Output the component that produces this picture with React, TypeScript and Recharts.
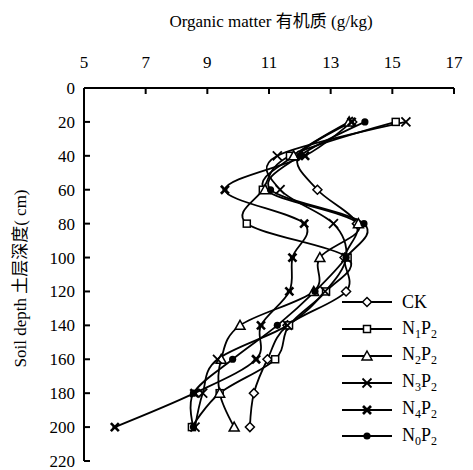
import React from "react";
import { LineChart, Line, XAxis, YAxis, Legend } from "recharts";

// soil depth (cm) and organic matter (g/kg) per treatment
const depths = [20, 40, 60, 80, 100, 120, 140, 160, 180, 200];
const ck = [13.7, 11.95, 12.57, 13.85, 13.45, 13.5, 11.6, 10.95, 10.51, 10.38];
const n1p2 = [15.11, 11.68, 10.8, 10.28, 13.55, 12.85, 11.65, 11.2, 9.4, 8.5];
const n2p2 = [13.6, 11.8, 10.87, 13.9, 12.65, 12.45, 10.06, 9.45, 9.4, 9.87];
const n3p2 = [15.44, 11.27, 11.36, 13.09, 13.5, 12.82, 11.6, 9.33, 8.85, 8.6];
const n4p2 = [13.68, 12.17, 9.57, 12.14, 11.76, 11.66, 10.74, 10.58, 8.58, 6.0];
const n0p2 = [14.11, 12.0, 11.05, 14.08, 13.5, 12.49, 11.27, 9.82, 8.55, 8.55];

const valueTicks = [5, 7, 9, 11, 13, 15, 17];
const depthTicks = [0, 20, 40, 60, 80, 100, 120, 140, 160, 180, 200, 220];

const serif = "Liberation Serif, Noto Sans CJK SC, serif";

type Shape = "diamond" | "square" | "triangle" | "cross" | "star" | "dot";

const series: { key: string; name: [string, string][]; shape: Shape }[] = [
  { key: "ck", name: [["CK", ""]], shape: "diamond" },
  { key: "n1p2", name: [["N", "1"], ["P", "2"]], shape: "square" },
  { key: "n2p2", name: [["N", "2"], ["P", "2"]], shape: "triangle" },
  { key: "n3p2", name: [["N", "3"], ["P", "2"]], shape: "cross" },
  { key: "n4p2", name: [["N", "4"], ["P", "2"]], shape: "star" },
  { key: "n0p2", name: [["N", "0"], ["P", "2"]], shape: "dot" },
];

const data = depths.map((depth, i) => ({
  depth,
  ck: ck[i],
  n1p2: n1p2[i],
  n2p2: n2p2[i],
  n3p2: n3p2[i],
  n4p2: n4p2[i],
  n0p2: n0p2[i],
}));

// Catmull-Rom style smoothing (same protocol as d3 curves)
const smoothCurve = (context: any) => {
  const k = 1 / 6;
  let x0 = NaN, x1 = NaN, x2 = NaN, y0 = NaN, y1 = NaN, y2 = NaN;
  let pt = 0;
  let ln = NaN;
  const seg = (x: number, y: number) => {
    context.bezierCurveTo(
      x1 + k * (x2 - x0),
      y1 + k * (y2 - y0),
      x2 + k * (x1 - x),
      y2 + k * (y1 - y),
      x2,
      y2
    );
  };
  return {
    areaStart() { ln = 0; },
    areaEnd() { ln = NaN; },
    lineStart() {
      x0 = x1 = x2 = y0 = y1 = y2 = NaN;
      pt = 0;
    },
    lineEnd() {
      if (pt === 2) context.lineTo(x2, y2);
      else if (pt === 3) seg(x1, y1);
      if (ln || (ln !== 0 && pt === 1)) context.closePath();
      ln = 1 - ln;
    },
    point(x: number, y: number) {
      x = +x; y = +y;
      if (pt === 0) {
        pt = 1;
        ln ? context.lineTo(x, y) : context.moveTo(x, y);
      } else if (pt === 1) {
        pt = 2;
        x1 = x; y1 = y;
      } else {
        pt = 3;
        seg(x, y);
      }
      x0 = x1; x1 = x2; x2 = x;
      y0 = y1; y1 = y2; y2 = y;
    },
  };
};

const Marker = ({ cx, cy, shape }: { cx: number; cy: number; shape: Shape }) => {
  if (cx == null || cy == null) return null;
  const sw = 1.5;
  switch (shape) {
    case "diamond":
      return (
        <polygon
          points={`${cx},${cy - 4.5} ${cx + 4.5},${cy} ${cx},${cy + 4.5} ${cx - 4.5},${cy}`}
          fill="#fff" stroke="#000" strokeWidth={sw}
        />
      );
    case "square":
      return <rect x={cx - 3.5} y={cy - 3.5} width={7} height={7} fill="#fff" stroke="#000" strokeWidth={sw} />;
    case "triangle":
      return (
        <polygon
          points={`${cx},${cy - 5} ${cx + 5},${cy + 4} ${cx - 5},${cy + 4}`}
          fill="#fff" stroke="#000" strokeWidth={sw}
        />
      );
    case "cross":
      return (
        <g stroke="#000" strokeWidth={1.8}>
          <line x1={cx - 4.5} y1={cy - 4.5} x2={cx + 4.5} y2={cy + 4.5} />
          <line x1={cx - 4.5} y1={cy + 4.5} x2={cx + 4.5} y2={cy - 4.5} />
        </g>
      );
    case "star":
      return (
        <g stroke="#000" strokeWidth={2.6}>
          <line x1={cx - 4} y1={cy - 4} x2={cx + 4} y2={cy + 4} />
          <line x1={cx - 4} y1={cy + 4} x2={cx + 4} y2={cy - 4} />
          <line x1={cx - 2.5} y1={cy} x2={cx + 2.5} y2={cy} strokeWidth={1.4} />
        </g>
      );
    default:
      return <circle cx={cx} cy={cy} r={3.6} fill="#000" />;
  }
};

const renderLegend = () => (
  <div style={{ fontFamily: serif, fontSize: 18, color: "#000" }}>
    {series.map((s) => (
      <div key={s.key} style={{ display: "flex", alignItems: "center", height: 26.8 }}>
        <svg width={52} height={16}>
          <line x1={0} y1={8} x2={50} y2={8} stroke="#000" strokeWidth={1.8} />
          <Marker cx={25} cy={8} shape={s.shape} />
        </svg>
        <span style={{ marginLeft: 8, lineHeight: 1 }}>
          {s.name.map(([base, sub], i) => (
            <span key={i}>
              {base}
              {sub && <sub style={{ fontSize: 12, verticalAlign: "-4px" }}>{sub}</sub>}
            </span>
          ))}
        </span>
      </div>
    ))}
  </div>
);

// x-axis title above the top axis
const ValueLabel = (props: any) => {
  const vb = props.viewBox || { x: 0, y: 0, width: 0, height: 0 };
  return (
    <text x={vb.x + vb.width / 2 + 2} y={vb.y - 3} textAnchor="middle" fill="#000" fontSize={17} fontFamily={serif}>
      Organic matter 有机质 (g/kg)
    </text>
  );
};

const DepthLabel = (props: any) => {
  const vb = props.viewBox || { x: 0, y: 0, width: 0, height: 0 };
  const cx = 20;
  const cy = vb.y + vb.height / 2 + 4;
  return (
    <text
      x={cx}
      y={cy}
      transform={`rotate(-90, ${cx}, ${cy})`}
      textAnchor="middle"
      dominantBaseline="central"
      fill="#000"
      fontSize={17}
      fontFamily={serif}
    >
      Soil depth 土层深度( cm)
    </text>
  );
};

export default function App() {
  return (
    <div style={{ position: "absolute", left: 0, top: 0, background: "#fff", fontFamily: serif }}>
      <LineChart
        width={473}
        height={470}
        data={data}
        layout="vertical"
        margin={{ top: 30, right: 19, bottom: 9, left: 0 }}
      >
        <XAxis
          type="number"
          orientation="top"
          domain={[5, 17]}
          ticks={valueTicks}
          interval={0}
          allowDataOverflow
          height={58}
          axisLine={{ stroke: "#000", strokeWidth: 2 }}
          tickLine={{ stroke: "#000", strokeWidth: 2 }}
          tickSize={-6}
          tickMargin={26}
          tick={{ fill: "#000", fontSize: 17, fontFamily: serif }}
          label={ValueLabel}
        />
        <YAxis
          type="number"
          dataKey="depth"
          domain={[0, 220]}
          ticks={depthTicks}
          interval={0}
          width={84}
          axisLine={{ stroke: "#000", strokeWidth: 2 }}
          tickLine={{ stroke: "#000", strokeWidth: 2 }}
          tickSize={-6}
          tickMargin={15}
          tick={{ fill: "#000", fontSize: 17, fontFamily: serif }}
          label={DepthLabel}
        />
        <Legend
          content={renderLegend}
          layout="vertical"
          align="center"
          verticalAlign="middle"
          wrapperStyle={{ position: "absolute", left: 342, top: 289, width: 131 }}
        />
        {series.map((s) => (
          <Line
            key={s.key}
            dataKey={s.key}
            type={smoothCurve as any}
            stroke="#000"
            strokeWidth={1.8}
            isAnimationActive={false}
            dot={(p: any) => <Marker key={`${s.key}-${p.index}`} cx={p.cx} cy={p.cy} shape={s.shape} />}
            activeDot={false}
          />
        ))}
      </LineChart>
    </div>
  );
}
